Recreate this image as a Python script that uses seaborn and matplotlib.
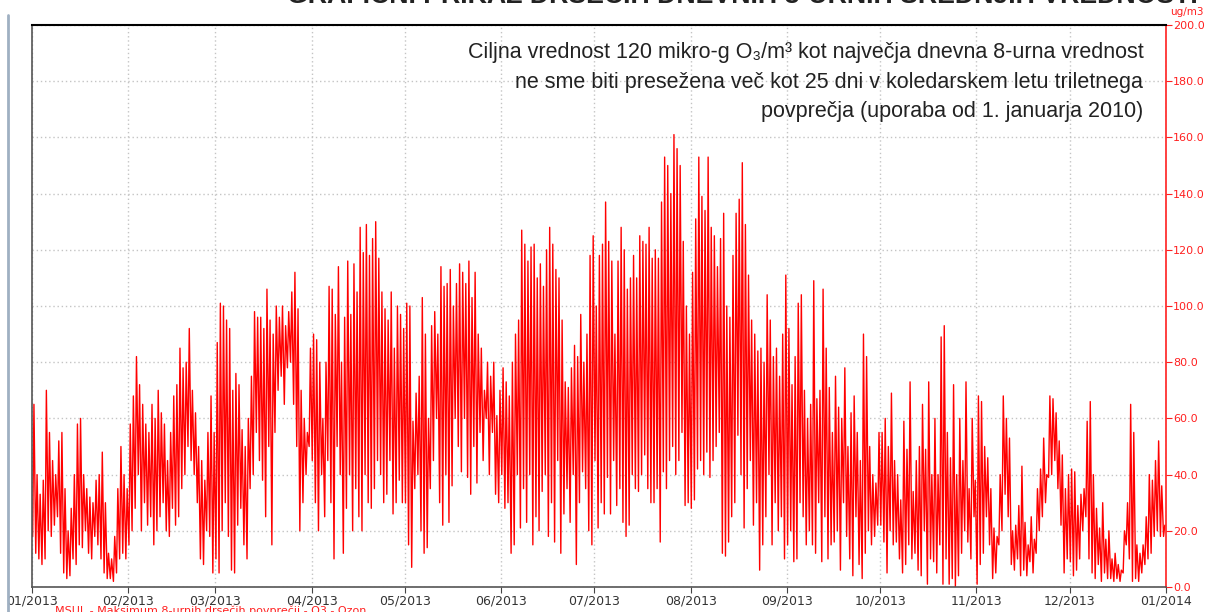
import pandas as pd
import seaborn as sns
import matplotlib.pyplot as plt
import matplotlib.dates as mdates
from matplotlib.lines import Line2D
from matplotlib.ticker import FormatStrFormatter, MultipleLocator

# daily highs / lows of the 8-hour O3 curve (ug/m3)
jan_hi = [65, 40, 33, 38, 70, 55, 45, 40, 52, 55, 35, 20, 28, 40, 58, 60, 40, 35, 32, 30, 38, 40, 48, 30, 12, 10, 18, 35, 50, 40, 35]
jan_lo = [18, 12, 10, 8, 10, 20, 18, 22, 25, 12, 5, 3, 4, 10, 8, 15, 14, 20, 12, 10, 18, 15, 10, 5, 3, 3, 2, 5, 10, 12, 10]
feb_hi = [58, 68, 82, 72, 65, 58, 55, 65, 60, 70, 62, 58, 45, 55, 68, 72, 85, 78, 80, 92, 70, 62, 50, 45, 38, 55, 68, 55]
feb_lo = [15, 20, 28, 40, 20, 30, 22, 25, 15, 20, 25, 30, 20, 18, 28, 22, 25, 35, 40, 50, 45, 40, 30, 10, 8, 20, 18, 5]
mar_hi = [87, 101, 100, 95, 92, 70, 76, 72, 56, 50, 60, 75, 98, 96, 96, 92, 106, 95, 90, 100, 96, 100, 93, 98, 105, 112, 99, 70, 60, 55, 85]
mar_lo = [10, 5, 20, 30, 18, 6, 5, 22, 28, 15, 10, 35, 40, 55, 45, 38, 25, 50, 15, 55, 70, 75, 65, 78, 80, 65, 50, 20, 30, 40, 50]
apr_hi = [90, 88, 80, 60, 80, 107, 106, 97, 114, 80, 96, 116, 97, 115, 105, 128, 119, 129, 118, 124, 130, 117, 105, 99, 95, 105, 85, 100, 97, 92]
apr_lo = [45, 30, 20, 40, 25, 45, 30, 10, 50, 40, 12, 28, 40, 20, 35, 25, 20, 40, 30, 28, 35, 45, 40, 30, 33, 45, 26, 30, 38, 30]
may_hi = [101, 100, 59, 69, 75, 103, 90, 60, 93, 98, 90, 114, 107, 108, 113, 100, 108, 115, 112, 108, 116, 103, 112, 90, 85, 70, 80, 75, 80, 61, 70]
may_lo = [30, 15, 7, 35, 40, 20, 12, 14, 35, 45, 60, 30, 22, 40, 23, 36, 60, 50, 41, 60, 39, 33, 50, 37, 55, 45, 60, 40, 55, 33, 30]
jun_hi = [78, 73, 68, 80, 90, 95, 127, 122, 116, 121, 122, 110, 115, 107, 120, 128, 122, 113, 110, 95, 73, 71, 78, 86, 82, 97, 80, 90, 118, 125]
jun_lo = [40, 28, 30, 12, 15, 40, 21, 35, 23, 40, 15, 25, 20, 34, 40, 18, 30, 16, 45, 12, 26, 35, 23, 40, 8, 30, 41, 35, 20, 15]
jul_hi = [100, 118, 122, 137, 123, 116, 90, 116, 128, 120, 106, 110, 118, 110, 125, 123, 122, 128, 117, 120, 117, 137, 153, 150, 140, 161, 156, 150, 123, 100, 90]
jul_lo = [45, 21, 30, 26, 39, 26, 45, 29, 35, 23, 18, 22, 40, 35, 34, 40, 47, 35, 30, 30, 35, 16, 41, 35, 45, 50, 40, 45, 55, 29, 30]
aug_hi = [112, 131, 153, 139, 134, 153, 128, 125, 114, 124, 133, 100, 96, 118, 133, 138, 151, 129, 111, 95, 90, 84, 85, 80, 104, 95, 82, 85, 75, 90, 111]
aug_lo = [28, 31, 42, 45, 40, 48, 39, 45, 50, 55, 12, 11, 16, 25, 30, 54, 40, 21, 35, 45, 22, 30, 6, 15, 25, 40, 15, 30, 20, 25, 10]
sep_hi = [92, 72, 82, 101, 104, 70, 60, 65, 109, 67, 70, 106, 85, 71, 55, 75, 64, 60, 78, 50, 62, 68, 55, 45, 90, 82, 50, 40, 37, 55]
sep_lo = [15, 20, 9, 10, 30, 25, 15, 20, 15, 12, 30, 9, 25, 10, 15, 16, 20, 6, 30, 18, 10, 4, 25, 8, 3, 12, 20, 15, 18, 22]
oct_hi = [55, 60, 50, 69, 45, 40, 31, 59, 49, 73, 34, 45, 50, 65, 49, 73, 40, 60, 40, 89, 93, 55, 46, 72, 40, 60, 45, 73, 35, 60, 38]
oct_lo = [22, 16, 5, 20, 15, 16, 10, 5, 8, 15, 10, 12, 6, 4, 20, 1, 10, 9, 5, 15, 1, 10, 1, 3, 0, 4, 12, 20, 16, 10, 25]
nov_hi = [68, 66, 50, 46, 35, 21, 18, 40, 68, 60, 53, 20, 22, 29, 43, 23, 15, 25, 17, 35, 42, 53, 40, 68, 67, 62, 52, 47, 35, 40]
nov_lo = [1, 8, 12, 25, 15, 3, 5, 15, 20, 33, 25, 8, 6, 10, 4, 6, 4, 9, 5, 12, 20, 25, 30, 39, 40, 45, 35, 22, 5, 10]
dec_hi = [42, 41, 29, 33, 35, 59, 66, 40, 28, 21, 30, 17, 20, 10, 12, 8, 6, 20, 30, 65, 55, 15, 12, 15, 25, 40, 38, 45, 52, 36, 22]
dec_lo = [9, 4, 6, 10, 20, 25, 10, 5, 3, 8, 2, 5, 3, 3, 2, 3, 2, 5, 15, 10, 2, 3, 2, 5, 8, 10, 12, 18, 20, 18, 18]

y_ticks = [0, 20, 40, 60, 80, 100, 120, 140, 160, 180, 200]

highs = jan_hi + feb_hi + mar_hi + apr_hi + may_hi + jun_hi + jul_hi + aug_hi + sep_hi + oct_hi + nov_hi + dec_hi
lows = jan_lo + feb_lo + mar_lo + apr_lo + may_lo + jun_lo + jul_lo + aug_lo + sep_lo + oct_lo + nov_lo + dec_lo

days = pd.date_range("2013-01-01", periods=len(highs), freq="D")
times, values = [], []
for d, lo, hi in zip(days, lows, highs):
    times += [d + pd.Timedelta(hours=5), d + pd.Timedelta(hours=15)]
    values += [lo, hi]
df = pd.DataFrame({"time": times, "o3": values})

sns.set_style("white")
plt.rcParams["font.family"] = ["DejaVu Sans"]

red = "#ff2020"
narrow = ["Liberation Sans Narrow", "Liberation Sans", "DejaVu Sans"]

fig = plt.figure(figsize=(12.05, 6.12), dpi=100)
ax = fig.add_axes([32 / 1205, 25 / 612, (1166 - 32) / 1205, (587 - 25) / 612])

sns.lineplot(data=df, x="time", y="o3", color="red", linewidth=1.0, ax=ax)

ax.set_xlim(pd.Timestamp("2013-01-01"), pd.Timestamp("2014-01-01"))
ax.set_ylim(y_ticks[0], y_ticks[-1])
ax.xaxis.set_major_locator(mdates.MonthLocator())
ax.xaxis.set_major_formatter(mdates.DateFormatter("%m/%Y"))
ax.yaxis.set_major_locator(MultipleLocator(20))
ax.yaxis.set_major_formatter(FormatStrFormatter("%.1f"))
ax.yaxis.tick_right()
ax.set_xlabel("")
ax.set_ylabel("")

ax.grid(True, color="#c4c4c4", linestyle=(0, (1, 2)), linewidth=1)
ax.tick_params(axis="x", colors="#444444", labelcolor="#333333", labelsize=9,
               length=4, pad=1.5, direction="out", bottom=True)
ax.tick_params(axis="y", colors=red, labelcolor=red, labelsize=8, length=4, pad=1,
               direction="out", right=True, left=False)

for side in ["left", "bottom"]:
    ax.spines[side].set_color("#555555")
    ax.spines[side].set_linewidth(1.2)
ax.spines["top"].set_color("black")
ax.spines["top"].set_linewidth(1.5)
ax.spines["right"].set_color(red)
ax.spines["right"].set_linewidth(1.2)

ax.text(0.98, 0.97,
        "Ciljna vrednost 120 mikro-g O\u2083/m\u00b3 kot največja dnevna 8-urna vrednost\n"
        "ne sme biti presežena več kot 25 dni v koledarskem letu triletnega\n"
        "povprečja (uporaba od 1. januarja 2010)",
        transform=ax.transAxes, ha="right", va="top", fontsize=15.5,
        family=narrow, color="#222222", linespacing=1.55, multialignment="right")

fig.text(1170 / 1205, 1 - 12 / 612, "ug/m3", color=red, fontsize=7.5, ha="left", va="center")

# title cut off at the top edge, footer cut off at the bottom edge
fig.text(1198 / 1205, 1 - 3 / 612, "GRAFIČNI PRIKAZ DRSEČIH DNEVNIH 8-URNIH SREDNJIH VREDNOSTI",
         ha="right", va="baseline", fontsize=19.3, fontweight="bold",
         family=narrow, color="#222222")
fig.text(55 / 1205, 6 / 612, "MSUL - Maksimum 8-urnih drsečih povprečij - O3 - Ozon",
         ha="left", va="top", fontsize=8, color=red)

fig.add_artist(Line2D([8 / 1205, 8 / 1205], [0, 1 - 15 / 612], color="#9fb0c2", linewidth=2))

plt.savefig("out.png", dpi=100)
